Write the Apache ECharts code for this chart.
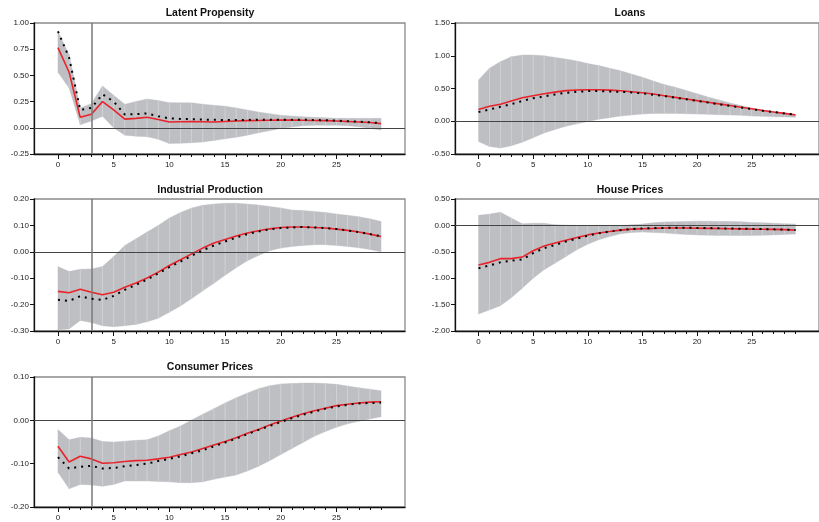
<!DOCTYPE html>
<html>
<head>
<meta charset="utf-8">
<script src="https://cdn.jsdelivr.net/npm/echarts@6/dist/echarts.min.js"></script>
<style>
html,body{margin:0;padding:0;background:#fff;}
#chart{width:819px;height:522px;}
</style>
</head>
<body>
<div id="chart"></div>
<script>
const horizons = [0,1,2,3,4,5,6,7,8,9,10,11,12,13,14,15,16,17,18,19,20,21,22,23,24,25,26,27,28,29];
const xTickLabels = [0,5,10,15,20,25];

const titles = ['Latent Propensity','Loans','Industrial Production','House Prices','Consumer Prices'];

// Latent Propensity
const lpMedian = [0.765,0.53,0.10,0.13,0.25,0.17,0.083,0.09,0.10,0.08,0.055,0.058,0.06,0.058,0.055,0.06,0.065,0.068,0.07,0.072,0.073,0.073,0.072,0.07,0.068,0.065,0.06,0.055,0.05,0.04];
const lpPoint  = [0.92,0.67,0.17,0.19,0.32,0.25,0.127,0.13,0.137,0.11,0.09,0.085,0.082,0.078,0.076,0.075,0.075,0.075,0.077,0.078,0.078,0.078,0.077,0.075,0.072,0.068,0.063,0.058,0.052,0.045];
const lpUpper  = [0.92,0.70,0.19,0.23,0.40,0.31,0.225,0.25,0.275,0.26,0.24,0.24,0.238,0.225,0.215,0.206,0.19,0.17,0.15,0.135,0.12,0.112,0.105,0.1,0.095,0.09,0.09,0.09,0.09,0.09];
const lpLower  = [0.53,0.38,0.03,0.065,0.11,0.0,-0.07,-0.08,-0.085,-0.11,-0.15,-0.147,-0.143,-0.135,-0.12,-0.105,-0.09,-0.07,-0.048,-0.027,-0.006,0.007,0.02,0.024,0.025,0.025,0.02,0.01,-0.005,-0.022];

// Loans
const loMedian = [0.18,0.23,0.26,0.31,0.36,0.39,0.42,0.445,0.467,0.477,0.48,0.48,0.475,0.465,0.45,0.435,0.415,0.39,0.365,0.34,0.315,0.29,0.265,0.24,0.215,0.19,0.165,0.14,0.12,0.095];
const loPoint  = [0.14,0.18,0.22,0.26,0.31,0.35,0.38,0.41,0.435,0.45,0.46,0.46,0.455,0.45,0.44,0.425,0.405,0.385,0.36,0.335,0.31,0.285,0.26,0.235,0.21,0.185,0.16,0.14,0.12,0.10];
const loUpper  = [0.63,0.81,0.91,0.985,1.01,1.01,1.0,0.975,0.95,0.92,0.88,0.85,0.81,0.77,0.72,0.67,0.615,0.56,0.52,0.47,0.42,0.37,0.325,0.28,0.24,0.20,0.17,0.145,0.125,0.11];
const loLower  = [-0.31,-0.385,-0.41,-0.375,-0.32,-0.25,-0.18,-0.125,-0.075,-0.04,-0.005,0.03,0.055,0.08,0.095,0.11,0.12,0.12,0.12,0.115,0.11,0.105,0.10,0.095,0.09,0.08,0.075,0.07,0.065,0.06];

// Industrial Production
const ipMedian = [-0.15,-0.155,-0.142,-0.153,-0.163,-0.153,-0.134,-0.118,-0.099,-0.077,-0.052,-0.03,-0.008,0.014,0.033,0.047,0.06,0.071,0.08,0.087,0.092,0.094,0.094,0.092,0.09,0.086,0.081,0.075,0.067,0.058];
const ipPoint  = [-0.182,-0.186,-0.168,-0.178,-0.182,-0.167,-0.144,-0.125,-0.105,-0.082,-0.058,-0.037,-0.015,0.006,0.024,0.039,0.054,0.067,0.077,0.085,0.09,0.092,0.094,0.092,0.09,0.086,0.081,0.075,0.067,0.059];
const ipUpper  = [-0.056,-0.075,-0.066,-0.065,-0.056,-0.018,0.024,0.049,0.075,0.10,0.128,0.149,0.166,0.176,0.181,0.184,0.184,0.181,0.177,0.172,0.166,0.158,0.156,0.153,0.149,0.143,0.138,0.133,0.125,0.115];
const ipLower  = [-0.296,-0.292,-0.26,-0.268,-0.28,-0.284,-0.28,-0.275,-0.265,-0.252,-0.229,-0.205,-0.177,-0.148,-0.119,-0.089,-0.06,-0.034,-0.014,0.004,0.014,0.02,0.024,0.027,0.027,0.024,0.02,0.015,0.009,0.0];

// House Prices
const hpMedian = [-0.75,-0.70,-0.63,-0.63,-0.60,-0.48,-0.39,-0.335,-0.28,-0.23,-0.18,-0.145,-0.115,-0.09,-0.07,-0.063,-0.057,-0.05,-0.05,-0.05,-0.054,-0.057,-0.06,-0.063,-0.065,-0.07,-0.072,-0.075,-0.08,-0.09];
const hpPoint  = [-0.81,-0.76,-0.70,-0.67,-0.645,-0.525,-0.43,-0.37,-0.305,-0.25,-0.195,-0.15,-0.115,-0.09,-0.07,-0.057,-0.05,-0.047,-0.045,-0.045,-0.047,-0.05,-0.055,-0.058,-0.062,-0.068,-0.07,-0.075,-0.08,-0.088];
const hpUpper  = [0.19,0.215,0.25,0.14,0.03,0.04,0.04,0.013,0.006,0.0,0.0,0.0,0.0,0.0,0.01,0.025,0.05,0.065,0.07,0.075,0.08,0.08,0.075,0.075,0.07,0.055,0.05,0.04,0.03,0.025];
const hpLower  = [-1.68,-1.60,-1.52,-1.37,-1.19,-1.0,-0.84,-0.715,-0.59,-0.46,-0.355,-0.27,-0.21,-0.16,-0.135,-0.125,-0.135,-0.145,-0.16,-0.17,-0.18,-0.185,-0.19,-0.19,-0.19,-0.19,-0.185,-0.18,-0.17,-0.165];

// Consumer Prices
const cpMedian = [-0.06,-0.096,-0.083,-0.089,-0.099,-0.098,-0.095,-0.093,-0.092,-0.089,-0.085,-0.079,-0.073,-0.065,-0.057,-0.049,-0.04,-0.03,-0.021,-0.011,-0.0015,0.007,0.015,0.022,0.028,0.034,0.037,0.040,0.042,0.043];
const cpPoint  = [-0.085,-0.111,-0.107,-0.105,-0.111,-0.11,-0.106,-0.103,-0.10,-0.094,-0.089,-0.083,-0.076,-0.069,-0.06,-0.051,-0.042,-0.032,-0.022,-0.013,-0.004,0.005,0.013,0.02,0.027,0.032,0.036,0.039,0.04,0.041];
const cpUpper  = [-0.021,-0.045,-0.039,-0.041,-0.049,-0.05,-0.048,-0.046,-0.045,-0.036,-0.024,-0.013,0.001,0.014,0.027,0.04,0.052,0.063,0.073,0.08,0.084,0.085,0.086,0.086,0.085,0.083,0.079,0.075,0.072,0.068];
const cpLower  = [-0.12,-0.158,-0.148,-0.149,-0.152,-0.148,-0.14,-0.14,-0.14,-0.141,-0.142,-0.144,-0.144,-0.142,-0.136,-0.131,-0.126,-0.117,-0.106,-0.093,-0.079,-0.065,-0.051,-0.037,-0.026,-0.016,-0.008,-0.002,0.003,0.008];

const yMins = [-0.25,-0.5,-0.3,-2.0,-0.2];
const yMaxs = [1.0,1.5,0.2,0.5,0.1];
const yIntervals = [0.25,0.5,0.1,0.5,0.1];
const shockHorizon = 3;

const panels = [
  {median: lpMedian, point: lpPoint, upper: lpUpper, lower: lpLower, vline: true},
  {median: loMedian, point: loPoint, upper: loUpper, lower: loLower, vline: false},
  {median: ipMedian, point: ipPoint, upper: ipUpper, lower: ipLower, vline: true},
  {median: hpMedian, point: hpPoint, upper: hpUpper, lower: hpLower, vline: false},
  {median: cpMedian, point: cpPoint, upper: cpUpper, lower: cpLower, vline: true}
];

const layout = [
  {left: 34, top: 23, height: 131, cx: 205, ty: 3},
  {left: 455, top: 23, height: 131, cx: 625, ty: 3},
  {left: 34, top: 199, height: 132, cx: 205, ty: 180},
  {left: 455, top: 199, height: 132, cx: 625, ty: 180},
  {left: 34, top: 377, height: 131, cx: 205, ty: 357}
];
const GW = 371, XMIN = -2.15, XMAX = 31.15;
const FONT = '"Liberation Sans", Arial, sans-serif';

const grid = [], xAxis = [], yAxis = [], series = [], title = [];

panels.forEach((p, k) => {
  const L = layout[k];
  grid.push({left: L.left, top: L.top, width: GW, height: L.height, show: true,
    borderColor: '#8a8a8a', borderWidth: 1.3, backgroundColor: 'transparent', containLabel: false});
  title.push({text: titles[k], left: L.cx, top: L.ty, textAlign: 'center',
    textStyle: {fontFamily: FONT, fontSize: 10.5, fontWeight: 'bold', color: '#111'}});
  xAxis.push({type: 'value', gridIndex: k, min: XMIN, max: XMAX, position: 'bottom',
    axisLine: {show: true, onZero: false, lineStyle: {color: '#111', width: 1.3}},
    axisTick: {show: true, length: 5, customValues: xTickLabels, lineStyle: {color: '#111', width: 1}},
    axisLabel: {show: true, customValues: xTickLabels, fontSize: 8, color: '#222', fontFamily: FONT, margin: 7},
    splitLine: {show: false}});
  xAxis.push({type: 'value', gridIndex: k, min: XMIN, max: XMAX, position: 'bottom',
    axisLine: {show: false, onZero: false},
    axisTick: {show: true, length: 3, customValues: horizons, lineStyle: {color: '#111', width: 1}},
    axisLabel: {show: false}, splitLine: {show: false}});
  yAxis.push({type: 'value', gridIndex: k, min: yMins[k], max: yMaxs[k], interval: yIntervals[k],
    axisLine: {show: true, onZero: false, lineStyle: {color: '#111', width: 1.3}},
    axisTick: {show: true, length: 4, lineStyle: {color: '#111', width: 1}},
    axisLabel: {fontSize: 8, color: '#222', fontFamily: FONT, margin: 5,
      formatter: v => v.toFixed(2)},
    splitLine: {show: false}});

  // zero line drawn under the band
  series.push({type: 'line', xAxisIndex: 2*k, yAxisIndex: k, data: [], silent: true, z: 1,
    markLine: {silent: true, symbol: 'none', label: {show: false}, animation: false,
      data: [{yAxis: 0, lineStyle: {color: '#444', width: 1.2, type: 'solid'}}]}});

  // confidence band, segment by segment
  const bandData = [];
  for (let i = 0; i < horizons.length - 1; i++) {
    bandData.push([horizons[i], p.lower[i], p.upper[i], horizons[i+1], p.lower[i+1], p.upper[i+1]]);
  }
  series.push({type: 'custom', xAxisIndex: 2*k, yAxisIndex: k, z: 2, silent: true, animation: false,
    data: bandData,
    renderItem: (params, api) => {
      const a = api.coord([api.value(0), api.value(1)]);
      const b = api.coord([api.value(0), api.value(2)]);
      const c = api.coord([api.value(3), api.value(5)]);
      const d = api.coord([api.value(3), api.value(4)]);
      const children = [{type: 'polygon', shape: {points: [a, b, c, d]},
        style: {fill: '#bebfc3', stroke: '#bebfc3', lineWidth: 0.4}}];
      if (params.dataIndex > 0) {
        children.push({type: 'line', shape: {x1: a[0], y1: a[1], x2: b[0], y2: b[1]},
          style: {stroke: '#d3d4d7', lineWidth: 0.8}});
      }
      return {type: 'group', children: children};
    }});

  // shock horizon line drawn over the band
  if (p.vline) {
    series.push({type: 'line', xAxisIndex: 2*k, yAxisIndex: k, data: [], silent: true, z: 3,
      markLine: {silent: true, symbol: 'none', label: {show: false}, animation: false,
        data: [{xAxis: shockHorizon, lineStyle: {color: '#777', width: 1.5, type: 'solid'}}]}});
  }

  series.push({type: 'line', xAxisIndex: 2*k, yAxisIndex: k, z: 4, silent: true, animation: false,
    showSymbol: false, data: horizons.map((h, i) => [h, p.median[i]]),
    lineStyle: {color: '#e8232b', width: 1.6}});
  series.push({type: 'line', xAxisIndex: 2*k, yAxisIndex: k, z: 5, silent: true, animation: false,
    showSymbol: false, data: horizons.map((h, i) => [h, p.point[i]]),
    lineStyle: {color: '#000', width: 2, type: [2, 5], cap: 'butt'}});
});

const chart = echarts.init(document.getElementById('chart'), null, {renderer: 'canvas'});
chart.setOption({animation: false, backgroundColor: '#fff', title, grid, xAxis, yAxis, series, tooltip: {show: false}});
</script>
</body>
</html>
